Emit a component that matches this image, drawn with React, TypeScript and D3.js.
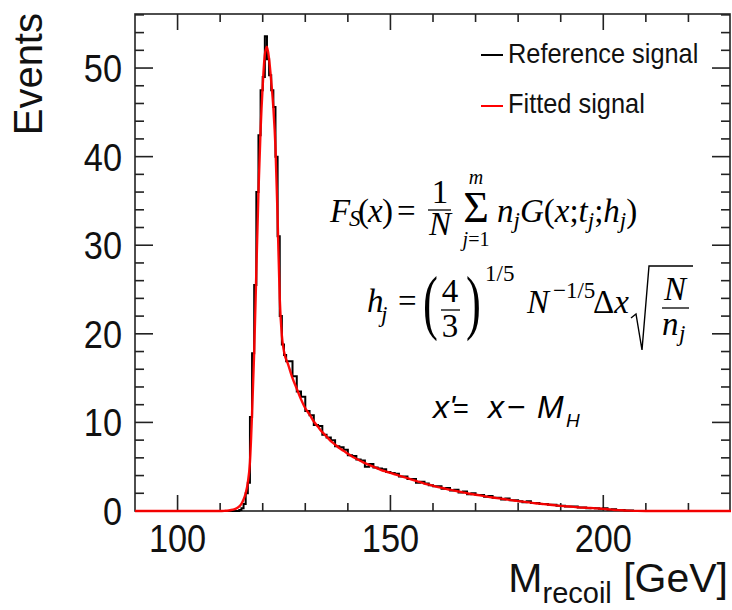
import React from 'react';
import * as d3 from 'd3';

const massRange = [90, 230];
const eventsRange = [0, 56.1];
const xMajorTicks = [100, 150, 200];
const xMinorStep = 10;
const yMajorTicks = [0, 10, 20, 30, 40, 50];
const yMinorStep = 2;

// Reference signal histogram: fine bins around the peak, 1 GeV bins in the tail
const peakBinStart = 112;
const peakBinWidth = 0.5;
const peakCounts = [
  0, 0, 0, 0, 0, 0.1, 0.3, 0.8, 2.0, 3.2, 10.6, 17.8, 25.5, 36.0,
  42.4, 47.5, 49.0, 53.6, 51.0, 49.2, 47.5, 45.6, 40.0, 31.0, 22.0, 18.8, 17.6, 16.9,
];
const tailBinStart = 126;
const tailBinWidth = 1;
const tailCounts = [
  16.9, 15.2, 13.5, 12.9, 11.3, 10.8, 9.7, 9.6, 8.6, 8.3,
  8.0, 7.3, 7.2, 6.9, 6.3, 6.2, 5.8, 5.7, 5.0, 5.3,
  4.9, 4.8, 4.7, 4.4, 4.3, 4.2, 3.9, 3.9, 3.6, 3.6,
  3.2, 3.3, 3.1, 2.9, 2.8, 2.8, 2.5, 2.6, 2.3, 2.4,
  2.1, 2.2, 1.9, 2.0, 1.8, 1.8, 1.6, 1.7, 1.5, 1.5,
  1.3, 1.4, 1.2, 1.2, 1.1, 1.0, 1.1, 0.9, 0.9, 0.8,
  0.8, 0.7, 0.7, 0.6, 0.6, 0.5, 0.5, 0.5, 0.4, 0.4,
  0.3, 0.35, 0.3, 0.25, 0.3, 0.15, 0.2, 0.1, 0.1, 0.05,
  0.05, 0,
];

// Fitted signal curve
const fitMass = [
  90, 110, 111, 112, 113, 114, 115, 115.5, 116, 116.5, 117, 117.5, 118, 118.5,
  119, 119.5, 120, 120.5, 121, 121.5, 122, 122.5, 123, 123.5, 124, 124.5, 125,
  126, 127, 128, 129, 130, 131, 132, 133, 134, 135, 136, 137, 138, 139, 140,
  141, 142, 143, 144, 145, 146, 147, 148, 149, 150, 151, 152, 153, 154, 155,
  156, 157, 158, 159, 160, 161, 162, 163, 164, 165, 166, 167, 168, 169, 170,
  171, 172, 173, 174, 175, 176, 177, 178, 179, 180, 181, 182, 183, 184, 185,
  186, 187, 188, 189, 190, 191, 192, 193, 194, 195, 196, 197, 198, 199, 200,
  201, 202, 203, 204, 205, 206, 208, 210, 230,
];
const fitEvents = [
  0, 0, 0.02, 0.06, 0.15, 0.35, 0.8, 1.3, 2.0, 3.2, 5.5, 11, 18, 27,
  36, 43, 48, 51.5, 52.4, 51, 48.5, 45.5, 41, 33, 24, 19.8, 18,
  16.5, 15.0, 13.8, 12.6, 11.6, 10.9, 10.1, 9.5, 8.9, 8.4, 7.9, 7.5, 7.1, 6.8, 6.45,
  6.15, 5.9, 5.65, 5.4, 5.2, 5.0, 4.8, 4.6, 4.45, 4.3, 4.15, 4.0, 3.85, 3.7, 3.55,
  3.4, 3.25, 3.1, 2.97, 2.85, 2.73, 2.62, 2.5, 2.4, 2.3, 2.2, 2.1, 2.0, 1.92, 1.84,
  1.76, 1.68, 1.6, 1.53, 1.46, 1.39, 1.32, 1.25, 1.18, 1.12, 1.06, 1.0, 0.94, 0.88, 0.83,
  0.78, 0.73, 0.68, 0.63, 0.58, 0.54, 0.5, 0.46, 0.42, 0.38, 0.36, 0.34, 0.31, 0.28, 0.24,
  0.2, 0.16, 0.12, 0.09, 0.06, 0.04, 0.01, 0, 0,
];

const legendLabels = ['Reference signal', 'Fitted signal'];
const legendColors = ['#000000', '#ff0000'];
const xTitle = 'M';
const xTitleSub = 'recoil';
const xTitleUnit = ' [GeV]';
const yTitle = 'Events';

const SANS = '"Liberation Sans", Arial, Helvetica, sans-serif';
const SERIF = '"Liberation Serif", "Times New Roman", serif';
const INK = '#111111';

function SText(props: any) {
  const { x, y, sx = 1, anchor = 'start', size, family = SANS, style, weight, children, fill = INK } = props;
  return (
    <text
      transform={`translate(${x},${y}) scale(${sx},1)`}
      textAnchor={anchor}
      fontSize={size}
      fontFamily={family}
      fontStyle={style}
      fontWeight={weight}
      fill={fill}
    >
      {children}
    </text>
  );
}

export default function App() {
  const left = 135, right = 731, top = 14, bottom = 511;
  const x = d3.scaleLinear().domain(massRange).range([left, right]);
  const y = d3.scaleLinear().domain(eventsRange).range([bottom, top]);

  const histPts: [number, number][] = [[massRange[0], 0]];
  peakCounts.forEach((c, i) => histPts.push([peakBinStart + i * peakBinWidth, c]));
  tailCounts.forEach((c, i) => histPts.push([tailBinStart + i * tailBinWidth, c]));
  histPts.push([tailBinStart + tailCounts.length * tailBinWidth, 0]);
  histPts.push([massRange[1], 0]);

  const histLine = d3
    .line<[number, number]>()
    .x((d) => x(d[0]))
    .y((d) => y(d[1]))
    .curve(d3.curveStepAfter);

  const fitPts: [number, number][] = fitMass.map((m, i) => [m, fitEvents[i]]);
  const fitLine = d3
    .line<[number, number]>()
    .x((d) => x(d[0]))
    .y((d) => y(d[1]))
    .curve(d3.curveMonotoneX);

  const xMinor = d3.range(massRange[0], massRange[1] + 0.001, xMinorStep).filter(
    (v) => !xMajorTicks.includes(v) && v > massRange[0] && v < massRange[1]
  );
  const yMinor = d3.range(0, eventsRange[1], yMinorStep).filter((v) => v % 10 !== 0);

  const majX = 16, minX = 8, majY = 18, minY = 9;
  const tickStroke = '#222';

  return (
    <svg width={732} height={610} style={{ position: 'absolute', left: 0, top: 0, background: '#fff' }}>
      <defs>
        <clipPath id="plotclip">
          <rect x={left} y={top - 2} width={right - left} height={bottom - top + 4} />
        </clipPath>
      </defs>
      <rect x={0} y={0} width={732} height={610} fill="#fff" />

      {/* frame */}
      <rect x={left} y={top} width={right - left - 1} height={bottom - top} fill="none" stroke={tickStroke} strokeWidth={1.6} />

      {/* x ticks bottom and top */}
      {xMajorTicks.map((v) => (
        <g key={'xM' + v}>
          <line x1={x(v)} x2={x(v)} y1={bottom} y2={bottom - majX} stroke={tickStroke} strokeWidth={1.6} />
          <line x1={x(v)} x2={x(v)} y1={top} y2={top + majX} stroke={tickStroke} strokeWidth={1.6} />
          <SText x={x(v)} y={552} size={39} sx={0.88} anchor="middle">{v}</SText>
        </g>
      ))}
      {xMinor.map((v) => (
        <g key={'xm' + v}>
          <line x1={x(v)} x2={x(v)} y1={bottom} y2={bottom - minX} stroke={tickStroke} strokeWidth={1.6} />
          <line x1={x(v)} x2={x(v)} y1={top} y2={top + minX} stroke={tickStroke} strokeWidth={1.6} />
        </g>
      ))}

      {/* y ticks left and right */}
      {yMajorTicks.map((v) => (
        <g key={'yM' + v}>
          <line x1={left} x2={left + majY} y1={y(v)} y2={y(v)} stroke={tickStroke} strokeWidth={1.6} />
          <line x1={right - 1} x2={right - 1 - majY} y1={y(v)} y2={y(v)} stroke={tickStroke} strokeWidth={1.6} />
          <SText x={122} y={y(v) + 14} size={39} sx={0.88} anchor="end">{v}</SText>
        </g>
      ))}
      {yMinor.map((v) => (
        <g key={'ym' + v}>
          <line x1={left} x2={left + minY} y1={y(v)} y2={y(v)} stroke={tickStroke} strokeWidth={1.6} />
          <line x1={right - 1} x2={right - 1 - minY} y1={y(v)} y2={y(v)} stroke={tickStroke} strokeWidth={1.6} />
        </g>
      ))}

      {/* data */}
      <g clipPath="url(#plotclip)">
        <path d={histLine(histPts) || ''} fill="none" stroke="#000" strokeWidth={2} />
        <path d={fitLine(fitPts) || ''} fill="none" stroke="#ff0000" strokeWidth={2.4} strokeOpacity={0.95} />
      </g>

      {/* axis titles */}
      <text transform="translate(42,13) rotate(-90)" textAnchor="end" fontSize={40} fontFamily={SANS} fill={INK}>
        {yTitle}
      </text>
      <text x={728} y={592} textAnchor="end" fontSize={41} fontFamily={SANS} fill={INK}>
        {xTitle}
        <tspan fontSize={29} dy={11}>{xTitleSub}</tspan>
        <tspan dy={-11}>{xTitleUnit}</tspan>
      </text>

      {/* legend */}
      {legendLabels.map((lab, i) => (
        <g key={lab}>
          <line x1={481} x2={503} y1={55 + i * 51} y2={55 + i * 51} stroke={legendColors[i]} strokeWidth={2} />
          <SText x={508} y={63 + i * 50} size={27} sx={0.94}>{lab}</SText>
        </g>
      ))}

      {/* formula 1 */}
      <g fontFamily={SERIF} fill="#000" fontSize={33}>
        <text x={330} y={222} fontStyle="italic">F</text>
        <text x={349} y={226} fontStyle="italic" fontSize={23}>S</text>
        <text x={358} y={222}>(</text>
        <text x={368} y={222} fontStyle="italic">x</text>
        <text x={382} y={222}>)</text>
        <text x={397} y={222}>=</text>
        <text x={440} y={203} textAnchor="middle">1</text>
        <line x1={428} x2={451} y1={210} y2={210} stroke="#000" strokeWidth={1.3} />
        <text x={440} y={235} textAnchor="middle" fontStyle="italic">N</text>
        <text x={476} y={222} textAnchor="middle" fontSize={44}>Σ</text>
        <text x={476} y={184} textAnchor="middle" fontSize={20} fontStyle="italic">m</text>
        <text x={476} y={246} textAnchor="middle" fontSize={20}>
          <tspan fontStyle="italic">j</tspan>=1
        </text>
        <text x={497} y={222}>
          <tspan fontStyle="italic">n</tspan>
          <tspan fontStyle="italic" fontSize={23} dy={6}>j</tspan>
          <tspan fontStyle="italic" dy={-6}>G</tspan>
          <tspan>(</tspan>
          <tspan fontStyle="italic">x</tspan>
          <tspan>;</tspan>
          <tspan fontStyle="italic">t</tspan>
          <tspan fontStyle="italic" fontSize={23} dy={6}>j</tspan>
          <tspan dy={-6}>;</tspan>
          <tspan fontStyle="italic">h</tspan>
          <tspan fontStyle="italic" fontSize={23} dy={6}>j</tspan>
          <tspan dy={-6}>)</tspan>
        </text>
      </g>

      {/* formula 2 */}
      <g fontFamily={SERIF} fill="#000" fontSize={33}>
        <text x={367} y={312} fontStyle="italic">h</text>
        <text x={381} y={322} fontStyle="italic" fontSize={23}>j</text>
        <text x={398} y={312}>=</text>
        <text transform="translate(423,326) scale(0.62,1)" fontSize={72}>(</text>
        <text x={450} y={302} textAnchor="middle">4</text>
        <line x1={441} x2={460} y1={310} y2={310} stroke="#000" strokeWidth={1.3} />
        <text x={450} y={337} textAnchor="middle">3</text>
        <text transform="translate(466,326) scale(0.62,1)" fontSize={72}>)</text>
        <text x={485} y={281} fontSize={23}>1/5</text>
        <text x={527} y={313} fontStyle="italic">N</text>
        <text x={553} y={298} fontSize={23}>−1/5</text>
        <text x={593} y={313}>Δ<tspan fontStyle="italic">x</tspan></text>
        <path d="M631,318 L636,314 L642,350 L649,266 L693,266" fill="none" stroke="#000" strokeWidth={1.4} />
        <text x={675} y={300} textAnchor="middle" fontStyle="italic">N</text>
        <line x1={662} x2={689} y1={308} y2={308} stroke="#000" strokeWidth={1.3} />
        <text x={662} y={335} fontStyle="italic">n</text>
        <text x={679} y={341} fontStyle="italic" fontSize={23}>j</text>
      </g>

      {/* formula 3 */}
      <g fontFamily={SANS} fill="#000" fontSize={32} fontStyle="italic">
        <text x={433} y={418}>x'</text>
        <text x={453} y={418} fontStyle="normal" fontSize={27}>=</text>
        <text x={488} y={418}>x</text>
        <text x={507} y={418} fontStyle="normal">−</text>
        <text x={537} y={418}>M</text>
        <text x={566} y={427} fontSize={19}>H</text>
      </g>
    </svg>
  );
}
